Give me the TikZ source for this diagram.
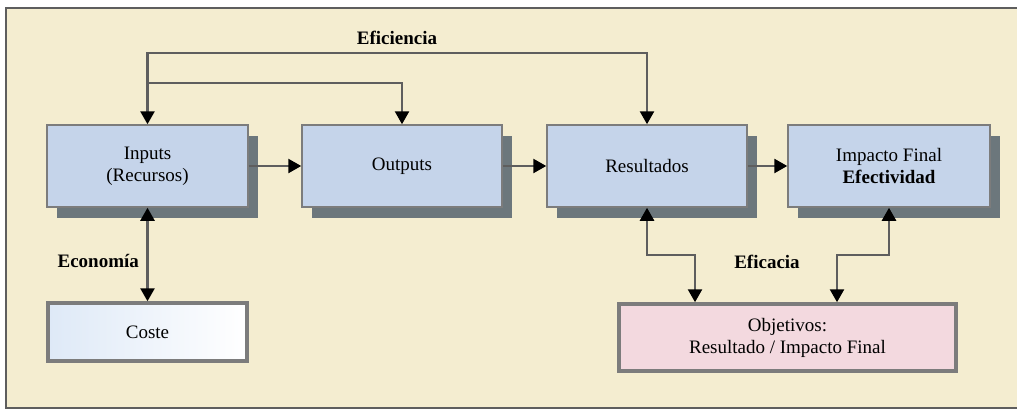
\documentclass[tikz,border=0pt]{standalone}
\usepackage{fontspec}
\setmainfont{Liberation Serif}
\usepackage{tikz}
\usetikzlibrary{arrows.meta,shadows,positioning}
\definecolor{crema}{HTML}{F4EDD0}
\definecolor{azulcaja}{HTML}{C5D4EA}
\definecolor{sombra}{HTML}{6C777C}
\definecolor{rosa}{HTML}{F3D9DF}
\definecolor{borde}{HTML}{7C7C7C}
\definecolor{linea}{HTML}{5E5E5E}
\tikzset{>={Triangle[length=13pt,width=14pt,color=black]}}

\begin{document}
\begin{tikzpicture}[x=1pt,y=-1pt,
                          font=\rmfamily\fontsize{19}{22}\selectfont,
                          caja/.style={draw=borde, line width=1.5pt, fill=azulcaja, minimum width=201pt, minimum height=82pt, align=center,
                                       drop shadow={shadow xshift=10pt, shadow yshift=-11pt, fill=sombra, opacity=1}},
                          meta/.style={draw=borde, line width=3.5pt, align=center},
                          flecha/.style={line width=2.5pt, linea},
                          etiqueta/.style={text=black, font=\rmfamily\fontsize{19}{22}\selectfont\bfseries},
                         ]

\useasboundingbox (0,0) rectangle (1017,410);
\fill[white] (0,0) rectangle (1017,410);
\draw[fill=crema, draw=linea, line width=2pt] (6,8) rectangle (1030,408);

\node[caja] (inp) at (147.5,166) {Inputs\\(Recursos)};
\node[caja, minimum width=200pt] (out) at (402,166) {Outputs};
\node[caja, minimum width=200pt] (res) at (647,166) {Resultados};
\node[caja, minimum width=202pt] (imp) at (889,166) {Impacto Final\\\textbf{Efectividad}};

\node[meta, left color={rgb,255:red,222;green,233;blue,247}, right color=white, minimum width=199pt, minimum height=58pt] (coste) at (147.5,332) {Coste};
\node[meta, fill=rosa, minimum width=337pt, minimum height=67pt] (obj) at (787.5,337.5) {Objetivos:\\Resultado / Impacto Final};

% eficiencia
\coordinate (efi) at (397,53);
\coordinate (efo) at (275,83);
\draw[flecha,<->] (inp.north) |- (efi) -| (res.north);
\draw[flecha,->] (inp.north |- efo) -| (out.north);
\node[etiqueta] (leficiencia) at (397,38) {Eficiencia};

\draw[flecha,->] (inp) -- (out);
\draw[flecha,->] (out) -- (res);
\draw[flecha,->] (res) -- (imp);

% economia
\draw[flecha,<->] (inp.south) -- (coste.north) node[etiqueta,midway,left=4pt,yshift=-6pt] (leconomia) {Economía};

% eficacia
\coordinate (ea) at (695,255);
\coordinate (eb) at (837,255);
\draw[flecha,<->] (res.south) |- (ea) -- (ea |- obj.north);
\draw[flecha,<->] (imp.south) |- (eb) -- (eb |- obj.north);
\node[etiqueta] (leficacia) at (767,262) {Eficacia};

\end{tikzpicture}
\end{document}
